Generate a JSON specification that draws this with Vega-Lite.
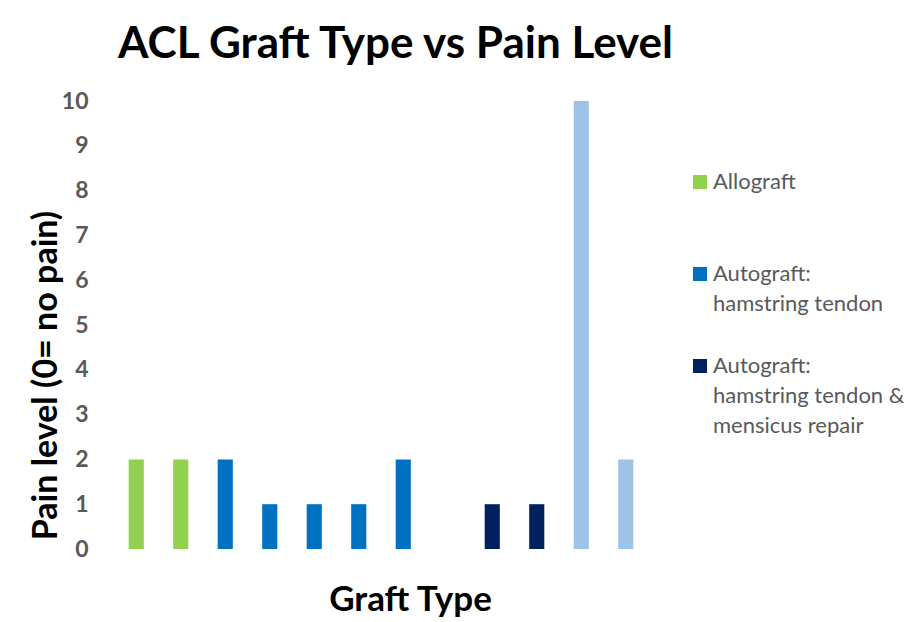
{
  "$schema": "https://vega.github.io/schema/vega-lite/v6.json",
  "width": 534,
  "height": 448,
  "autosize": {"type": "none"},
  "padding": {"left": 114, "top": 101, "right": 274, "bottom": 73},
  "background": "white",
  "title": {
    "text": "ACL Graft Type vs Pain Level",
    "anchor": "start",
    "frame": "group",
    "font": "Lato",
    "fontSize": 44,
    "fontWeight": "bold",
    "color": "black",
    "dx": 4,
    "offset": 23
  },
  "config": {"view": {"stroke": null}},
  "data": {
    "values": [
      {"patient": "1", "graft": "Allograft", "pain": 2},
      {"patient": "2", "graft": "Allograft", "pain": 2},
      {"patient": "3", "graft": "Autograft: hamstring tendon", "pain": 2},
      {"patient": "4", "graft": "Autograft: hamstring tendon", "pain": 1},
      {"patient": "5", "graft": "Autograft: hamstring tendon", "pain": 1},
      {"patient": "6", "graft": "Autograft: hamstring tendon", "pain": 1},
      {"patient": "7", "graft": "Autograft: hamstring tendon", "pain": 2},
      {"patient": "9", "graft": "Autograft: hamstring tendon & mensicus repair", "pain": 1},
      {"patient": "10", "graft": "Autograft: hamstring tendon & mensicus repair", "pain": 1},
      {"patient": "11", "graft": "Other graft", "pain": 10},
      {"patient": "12", "graft": "Other graft", "pain": 2}
    ]
  },
  "mark": {"type": "bar"},
  "encoding": {
    "x": {
      "field": "patient",
      "type": "nominal",
      "scale": {"domain": ["1","2","3","4","5","6","7","8","9","10","11","12"], "paddingInner": 0.66, "paddingOuter": 0.33},
      "axis": {
        "labels": false,
        "ticks": false,
        "domain": false,
        "title": "Graft Type",
        "titleFont": "Lato",
        "titleFontSize": 35,
        "titleFontWeight": "bold",
        "titleColor": "black",
        "titleX": 296,
        "titleY": 50,
        "titleAlign": "center",
        "titleBaseline": "middle"
      }
    },
    "y": {
      "field": "pain",
      "type": "quantitative",
      "scale": {"domain": [0, 10], "nice": false},
      "axis": {
        "values": [0,1,2,3,4,5,6,7,8,9,10],
        "grid": false,
        "ticks": false,
        "domain": false,
        "labelFont": "Lato",
        "labelFontSize": 23,
        "labelFontWeight": "bold",
        "labelColor": "#595959",
        "labelPadding": 26,
        "title": "Pain level (0= no pain)",
        "titleFont": "Lato",
        "titleFontSize": 34,
        "titleFontWeight": "bold",
        "titleColor": "black",
        "titleX": -68,
        "titleY": 274,
        "titleAlign": "center",
        "titleBaseline": "middle"
      }
    },
    "color": {
      "field": "graft",
      "type": "nominal",
      "scale": {
        "domain": ["Allograft", "Autograft: hamstring tendon", "Autograft: hamstring tendon & mensicus repair", "Other graft"],
        "range": ["#92D050", "#0070C0", "#002060", "#9DC3E6"]
      },
      "legend": {
        "values": ["Allograft", "Autograft: hamstring tendon", "Autograft: hamstring tendon & mensicus repair"],
        "orient": "none",
        "legendX": 575,
        "legendY": 70,
        "title": null,
        "symbolType": "square",
        "symbolSize": 196,
        "symbolStrokeWidth": 0,
        "labelFont": "Lato",
        "labelFontSize": 22,
        "labelColor": "#595959",
        "labelLimit": 300,
        "labelOffset": 2,
        "rowPadding": 10,
        "encode": {"labels": {"update": {"lineHeight": {"value": 30}}}},
        "labelExpr": "datum.label == 'Allograft' ? ['Allograft', ' ', ' '] : datum.label == 'Autograft: hamstring tendon' ? ['Autograft:', 'hamstring tendon', ' '] : ['Autograft:', 'hamstring tendon &', 'mensicus repair']"
      }
    }
  }
}
